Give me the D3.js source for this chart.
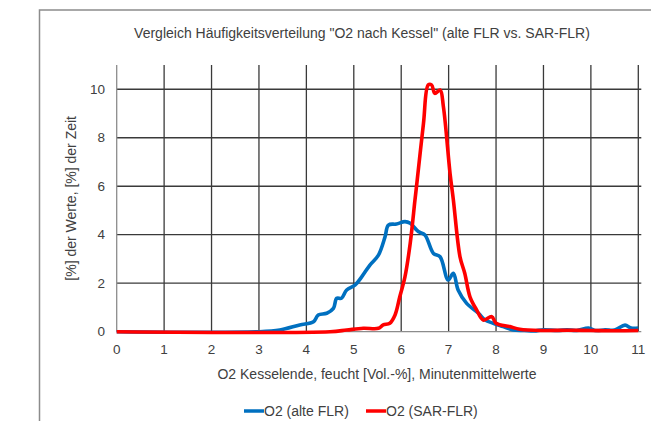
<!DOCTYPE html>
<html>
<head>
<meta charset="utf-8">
<script src="https://cdn.jsdelivr.net/npm/d3@7"></script>
<style>
  body { margin: 0; background: #fff; }
  svg text { font-family: "Liberation Sans", Arial, sans-serif; fill: #404040; }
</style>
</head>
<body>
<svg width="651" height="421"></svg>
<script>
// O2 values [Vol.-%] and frequency [%]
let xAlt = [0, 3.0, 3.44, 3.86, 4.15, 4.25, 4.43, 4.57, 4.64, 4.74, 4.85, 5.03, 5.17, 5.34, 5.52, 5.66, 5.73, 5.9, 6.08, 6.19,
            6.36, 6.5, 6.68, 6.82, 6.99, 7.1, 7.2, 7.38, 7.63, 7.77, 7.94, 8.15, 8.36, 8.6, 8.8, 9.0, 9.3, 9.5, 9.7, 9.95,
            10.1, 10.3, 10.5, 10.72, 10.85, 11];
let yAlt = [0, 0, 0.07, 0.28, 0.41, 0.69, 0.76, 0.96, 1.38, 1.38, 1.72, 1.93, 2.27, 2.75, 3.16, 3.92, 4.4, 4.44, 4.54, 4.47,
            4.13, 3.99, 3.23, 3.09, 2.13, 2.41, 1.72, 1.17, 0.76, 0.48, 0.35, 0.21, 0.07, 0.05, 0.03, 0.08, 0.05, 0.08, 0.05, 0.15,
            0.05, 0.08, 0.07, 0.27, 0.15, 0.15];

let xSar = [0, 4.5, 4.85, 5.2, 5.52, 5.62, 5.76, 5.87, 5.97, 6.08, 6.19, 6.29, 6.33, 6.47, 6.57, 6.64, 6.71, 6.82, 6.89, 7.03,
            7.1, 7.24, 7.34, 7.45, 7.59, 7.73, 7.91, 8.0, 8.29, 8.5, 9.0, 9.5, 10.0, 10.5, 11];
let ySar = [0, 0, 0.07, 0.14, 0.14, 0.28, 0.35, 0.69, 1.44, 2.27, 3.65, 5.43, 6.12, 8.6, 10.18, 10.18, 9.83, 9.97, 9.28, 6.53,
            5.43, 3.09, 2.41, 1.44, 0.9, 0.48, 0.62, 0.35, 0.21, 0.1, 0.05, 0.06, 0.05, 0.04, 0.05];

let xTicks = [0, 1, 2, 3, 4, 5, 6, 7, 8, 9, 10, 11];
let yTicks = [0, 2, 4, 6, 8, 10];

let seriesNames = ["O2 (alte FLR)", "O2 (SAR-FLR)"];
let seriesColors = ["#0070C0", "#FF0000"];

var svg = d3.select("svg");

// outer frame
svg.append("rect")
    .attr("x", 39.5).attr("y", 10)
    .attr("width", 640).attr("height", 440)
    .attr("fill", "none")
    .attr("stroke", "#8c8c8c")
    .attr("stroke-width", 1.5);

let x = d3.scaleLinear().domain([0, 11]).range([116.7, 638.3]);
let y = d3.scaleLinear().domain([0, 11]).range([331.7, 65]);

// horizontal grid
svg.append("g")
    .selectAll("line")
    .data(yTicks.filter(d => d > 0))
    .enter().append("line")
    .attr("x1", x(0)).attr("x2", x(11) + 3)
    .attr("y1", d => y(d)).attr("y2", d => y(d))
    .attr("stroke", "#3a3a3a")
    .attr("stroke-width", 1.3);

// vertical grid
svg.append("g")
    .selectAll("line")
    .data(xTicks.filter(d => d > 0))
    .enter().append("line")
    .attr("x1", d => x(d)).attr("x2", d => x(d))
    .attr("y1", y(11)).attr("y2", y(0))
    .attr("stroke", "#3a3a3a")
    .attr("stroke-width", 1.3);

// axis lines
svg.append("line")
    .attr("x1", x(0)).attr("x2", x(0))
    .attr("y1", y(11)).attr("y2", y(0))
    .attr("stroke", "#8c8c8c").attr("stroke-width", 1.3);
svg.append("line")
    .attr("x1", x(0)).attr("x2", x(11) + 3)
    .attr("y1", y(0)).attr("y2", y(0))
    .attr("stroke", "#8c8c8c").attr("stroke-width", 1.3);

// tick labels
svg.append("g")
    .selectAll("text")
    .data(xTicks)
    .enter().append("text")
    .attr("x", d => x(d))
    .attr("y", 354)
    .attr("text-anchor", "middle")
    .attr("font-size", 13.5)
    .text(d => d);

svg.append("g")
    .selectAll("text")
    .data(yTicks)
    .enter().append("text")
    .attr("x", 105)
    .attr("y", d => y(d) + 4.5)
    .attr("text-anchor", "end")
    .attr("font-size", 13.5)
    .text(d => d);

// titles
svg.append("text")
    .attr("x", 362).attr("y", 38)
    .attr("text-anchor", "middle")
    .attr("font-size", 14)
    .text('Vergleich Häufigkeitsverteilung "O2 nach Kessel" (alte FLR vs. SAR-FLR)');

svg.append("text")
    .attr("x", 377).attr("y", 379)
    .attr("text-anchor", "middle")
    .attr("font-size", 14)
    .text("O2 Kesselende, feucht [Vol.-%], Minutenmittelwerte");

svg.append("text")
    .attr("transform", "translate(76," + y(5.5) + ") rotate(-90)")
    .attr("text-anchor", "middle")
    .attr("font-size", 14)
    .text("[%] der Werte, [%] der Zeit");

// series
let line = d3.line()
    .x(d => x(d[0]))
    .y(d => y(d[1]))
    .curve(d3.curveCatmullRom.alpha(0.5));

let series = [d3.zip(xAlt, yAlt), d3.zip(xSar, ySar)];

svg.append("g")
    .selectAll("path")
    .data(series)
    .enter().append("path")
    .attr("fill", "none")
    .attr("stroke", (d, i) => seriesColors[i])
    .attr("stroke-width", 3.6)
    .attr("stroke-linejoin", "round")
    .attr("d", line);

// legend
let legendX = [244, 366];
let legend = svg.append("g")
    .selectAll("g")
    .data(seriesNames)
    .enter().append("g")
    .attr("transform", (d, i) => "translate(" + legendX[i] + ",411)");
legend.append("line")
    .attr("x1", 0).attr("x2", 20)
    .attr("stroke", (d, i) => seriesColors[i])
    .attr("stroke-width", 3.5);
legend.append("text")
    .attr("x", 20).attr("y", 5)
    .attr("font-size", 14)
    .text(d => d);
</script>
</body>
</html>
